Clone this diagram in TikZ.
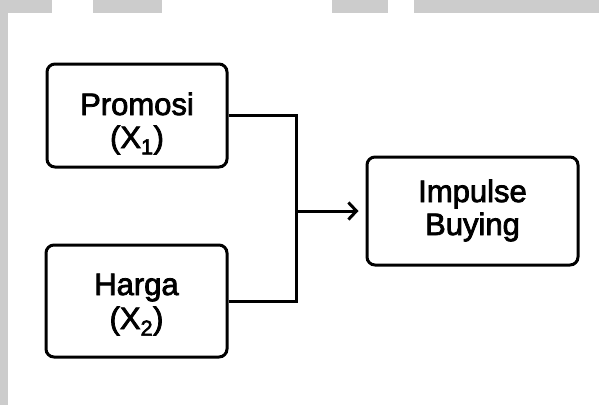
\documentclass[tikz,border=0pt]{standalone}
\usepackage{fontspec}
\setmainfont{Liberation Sans}[FakeBold=2.5]
\usetikzlibrary{arrows.meta}
\begin{document}
\begin{tikzpicture}[x=1pt,y=-1pt,
  varbox/.style={draw, line width=3pt, rounded corners=8pt, inner sep=0pt},
  caption/.style={anchor=base, inner sep=0pt, font=\fontsize{31}{35}\selectfont},
  link/.style={line width=3pt}]
\useasboundingbox (0,0) rectangle (599,405);
% grey frame strips
\fill[black!20] (0,0) rectangle (52,13);
\fill[black!20] (93,0) rectangle (162,13);
\fill[black!20] (332,0) rectangle (388,13);
\fill[black!20] (414,0) rectangle (599,13);
\fill[black!20] (0,0) rectangle (8,405);
% variable boxes
\node[varbox, minimum width=180pt, minimum height=103pt] (promosi) at (137,115.5) {};
\node[varbox, minimum width=181pt, minimum height=112pt] (harga) at (136.5,301) {};
\node[varbox, minimum width=211pt, minimum height=108pt] (impulse) at (472.5,211) {};
% box captions
\node[caption] (promosi1) at (137,115) {Promosi};
\node[caption] (promosi2) at (137,148) {(X\textsubscript{1})};
\node[caption] (harga1) at (136.5,295) {Harga};
\node[caption] (harga2) at (136.5,329) {(X\textsubscript{2})};
\node[caption] (impulse1) at (472.5,202) {Impulse};
\node[caption] (impulse2) at (472.5,235) {Buying};
% connectors
\coordinate (join) at (296,211);
\draw[link] (promosi.east) -| (join);
\draw[link] (harga.east) -| (join);
\draw[link, -{Straight Barb[length=8pt,width=17pt,line width=3pt]}, shorten >=7pt] (join) -- (impulse.west);
\end{tikzpicture}
\end{document}
